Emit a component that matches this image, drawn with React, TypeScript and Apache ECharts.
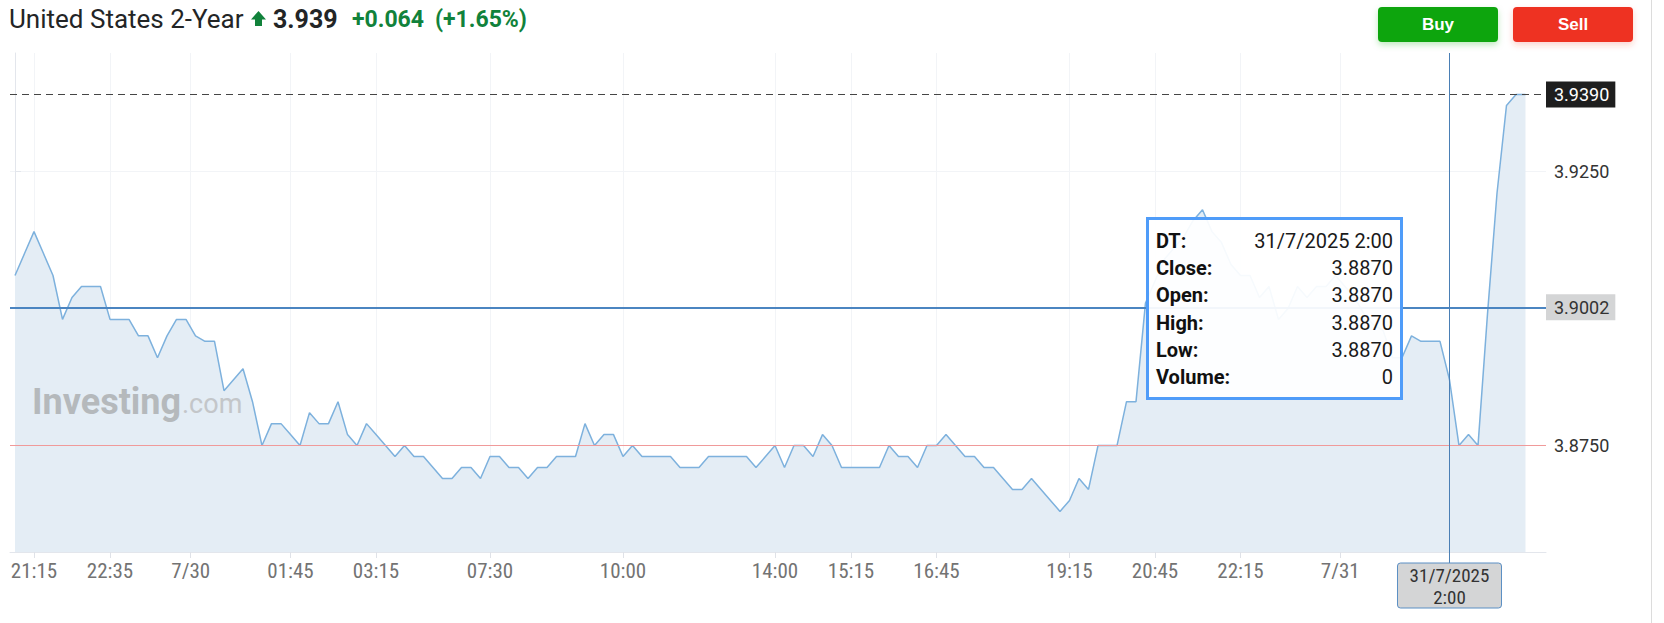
import React, { useEffect, useRef } from "react";
import * as echarts from "echarts";

// 10-minute closes, United States 2-Year yield
const closes: number[] = [
  3.906, 3.910, 3.914, 3.910, 3.906, 3.898, 3.902, 3.904, 3.904, 3.904,
  3.898, 3.898, 3.898, 3.895, 3.895, 3.891, 3.895, 3.898, 3.898, 3.895,
  3.894, 3.894, 3.885, 3.887, 3.889, 3.883, 3.875, 3.879, 3.879, 3.877,
  3.875, 3.881, 3.879, 3.879, 3.883, 3.877, 3.875, 3.879, 3.877, 3.875,
  3.873, 3.875, 3.873, 3.873, 3.871, 3.869, 3.869, 3.871, 3.871, 3.869,
  3.873, 3.873, 3.871, 3.871, 3.869, 3.871, 3.871, 3.873, 3.873, 3.873,
  3.879, 3.875, 3.877, 3.877, 3.873, 3.875, 3.873, 3.873, 3.873, 3.873,
  3.871, 3.871, 3.871, 3.873, 3.873, 3.873, 3.873, 3.873, 3.871, 3.873,
  3.875, 3.871, 3.875, 3.875, 3.873, 3.877, 3.875, 3.871, 3.871, 3.871,
  3.871, 3.871, 3.875, 3.873, 3.873, 3.871, 3.875, 3.875, 3.877, 3.875,
  3.873, 3.873, 3.871, 3.871, 3.869, 3.867, 3.867, 3.869, 3.867, 3.865,
  3.863, 3.865, 3.869, 3.867, 3.875, 3.875, 3.875, 3.883, 3.883, 3.901,
  3.905, 3.909, 3.911, 3.913, 3.916, 3.918, 3.914, 3.912, 3.908, 3.906,
  3.906, 3.902, 3.904, 3.898, 3.900, 3.904, 3.902, 3.904, 3.904, 3.906,
  3.904, 3.902, 3.899, 3.897, 3.896, 3.891, 3.891, 3.895, 3.894, 3.894,
  3.894, 3.887, 3.875, 3.877, 3.875, 3.899, 3.921, 3.937, 3.939, 3.939,
];

// x tick labels and the bar index they sit at
const xTickLabels = ["21:15", "22:35", "7/30", "01:45", "03:15", "07:30", "10:00", "14:00", "15:15", "16:45", "19:15", "20:45", "22:15", "7/31", "02:00"];
const xTickIndex = [2, 10, 18.5, 29, 38, 50, 64, 80, 88, 97, 111, 120, 129, 139.5, 151];

// y axis
const yTickValues = [3.875, 3.9, 3.925];
const yLabelValues = [3.875, 3.925];
const yMin = 3.8556;
const yMax = 3.94656;
const xMin = -0.5263;
const xMax = 161.158;

// reference levels
const prevClose = 3.875;
const avgLevel = 3.9002;

// hovered bar
const hoverIndex = 151;
const hoverDate = "31/7/2025";
const hoverTime = "2:00";
const hoverVolume = 0;

const title = "United States 2-Year";

const GREEN = "#11823b";
const AXIS_FONT = "'Liberation Sans Narrow', 'Arial Narrow', 'Roboto Condensed', 'DejaVu Sans Condensed', sans-serif";

export default function App() {
  const ref = useRef<HTMLDivElement>(null);

  useEffect(() => {
    const chart = echarts.init(ref.current!, null, { renderer: "svg" });
    const last = closes[closes.length - 1];
    const change = last - prevClose;
    const pct = (change / prevClose) * 100;
    const labelMap = new Map<number, string>();
    xTickIndex.forEach((v, i) => labelMap.set(v, xTickLabels[i]));

    const option: any = {
      animation: false,
      grid: { left: 10, right: 118, top: 53, bottom: 71, containLabel: false },
      xAxis: {
        type: "value",
        min: xMin,
        max: xMax,
        axisLine: { show: true, lineStyle: { color: "#e3e6ec", width: 1 } },
        axisTick: { show: true, customValues: xTickIndex, length: 6, lineStyle: { color: "#dfe2e8" } },
        axisLabel: {
          customValues: xTickIndex,
          formatter: (v: number) => labelMap.get(v) ?? "",
          color: "#737373",
          fontSize: 21,
          fontFamily: AXIS_FONT,
          margin: 8,
        },
        splitLine: { show: true, lineStyle: { color: "#f2f4f7", width: 1 } },
      },
      yAxis: {
        type: "value",
        position: "right",
        min: yMin,
        max: yMax,
        scale: true,
        axisLine: { show: true, lineStyle: { color: "#e3e6ec", width: 1 } },
        axisTick: { show: true, customValues: yTickValues, length: 6, lineStyle: { color: "#e3e6ec" } },
        axisLabel: {
          customValues: yLabelValues,
          formatter: (v: number) => v.toFixed(4),
          color: "#333333",
          fontSize: 18,
          fontFamily: "Roboto, sans-serif",
          margin: 8,
        },
        splitLine: { show: true, lineStyle: { color: "#f2f4f7", width: 1 } },
      },
      series: [
        {
          type: "line",
          data: closes.map((v, i) => [i, v]),
          showSymbol: false,
          symbol: "none",
          lineStyle: { color: "#7db1dd", width: 1.5 },
          areaStyle: { color: "#e4edf5", opacity: 1 },
          z: 2,
          markLine: {
            silent: true,
            symbol: "none",
            animation: false,
            precision: 4,
            data: [
              {
                yAxis: prevClose,
                lineStyle: { color: "#f09a9a", width: 1, type: "solid" },
                label: { show: false },
              },
              {
                yAxis: avgLevel,
                lineStyle: { color: "#4b85c1", width: 2, type: "solid" },
                label: {
                  show: true,
                  position: "end",
                  distance: 0,
                  formatter: (p: any) => Number(p.value).toFixed(4),
                  backgroundColor: "#d4d5d6",
                  color: "#333333",
                  fontSize: 18,
                  fontFamily: "Roboto, sans-serif",
                  lineHeight: 18,
                  padding: [4, 6, 4, 8],
                },
              },
              {
                yAxis: last,
                lineStyle: { color: "#454545", width: 1, type: [7, 5] },
                label: {
                  show: true,
                  position: "end",
                  distance: 0,
                  formatter: (p: any) => Number(p.value).toFixed(4),
                  backgroundColor: "#1e1e1e",
                  color: "#ffffff",
                  fontSize: 18,
                  fontFamily: "Roboto, sans-serif",
                  lineHeight: 18,
                  padding: [4, 6, 4, 8],
                },
              },
              {
                xAxis: hoverIndex,
                lineStyle: { color: "#4a7fb5", width: 1, type: "solid" },
                label: { show: false },
              },
            ],
          },
        },
      ],
    };
    chart.setOption(option);

    const cx = chart.convertToPixel({ xAxisIndex: 0 }, hoverIndex) as number;
    const gridBottom = chart.convertToPixel({ yAxisIndex: 0 }, yMin) as number;
    const hoverClose = closes[hoverIndex];

    const boxW = 104;
    const boxTop = gridBottom + 11;
    const boxH = 45;

    const ttX = 1146;
    const ttY = 217;
    const ttW = 257;
    const ttH = 183;
    const rowLabels = ["DT:", "Close:", "Open:", "High:", "Low:", "Volume:"];
    const rowValues = [
      `${hoverDate} ${hoverTime}`,
      hoverClose.toFixed(4),
      hoverClose.toFixed(4),
      hoverClose.toFixed(4),
      hoverClose.toFixed(4),
      String(hoverVolume),
    ];

    const elements: any[] = [
      // widget border
      { type: "line", shape: { x1: 1651.5, y1: 0, x2: 1651.5, y2: 623 }, style: { stroke: "#dcdcdc", lineWidth: 1 }, z: 1 },
      // header
      { type: "text", x: 9, y: 19, style: { text: title, fill: "#232526", fontSize: 26, fontFamily: "Roboto, sans-serif", align: "left", verticalAlign: "middle" } },
      {
        type: "polygon",
        shape: { points: [[258.5, 11], [266, 19.5], [262, 19.5], [262, 26], [255, 26], [255, 19.5], [251, 19.5]] },
        style: { fill: GREEN },
      },
      { type: "text", x: 273, y: 19, style: { text: last.toFixed(3), fill: "#232526", fontSize: 25, fontWeight: "bold", fontFamily: "Roboto, sans-serif", align: "left", verticalAlign: "middle" } },
      { type: "text", x: 352, y: 19, style: { text: (change >= 0 ? "+" : "") + change.toFixed(3), fill: GREEN, fontSize: 23, fontWeight: "bold", fontFamily: "Roboto, sans-serif", align: "left", verticalAlign: "middle" } },
      { type: "text", x: 435, y: 19, style: { text: `(${pct >= 0 ? "+" : ""}${pct.toFixed(2)}%)`, fill: GREEN, fontSize: 23, fontWeight: "bold", fontFamily: "Roboto, sans-serif", align: "left", verticalAlign: "middle" } },
      // buttons
      { type: "rect", shape: { x: 1378, y: 7, width: 120, height: 35, r: 4 }, style: { fill: "#0ea50b", shadowBlur: 6, shadowOffsetY: 3, shadowColor: "rgba(14,165,11,0.25)" } },
      { type: "text", x: 1438, y: 24.5, style: { text: "Buy", fill: "#ffffff", fontSize: 17, fontWeight: "bold", fontFamily: "'Liberation Sans', Arial, sans-serif", align: "center", verticalAlign: "middle" } },
      { type: "rect", shape: { x: 1513, y: 7, width: 120, height: 35, r: 4 }, style: { fill: "#ee3124", shadowBlur: 6, shadowOffsetY: 3, shadowColor: "rgba(238,49,36,0.22)" } },
      { type: "text", x: 1573, y: 24.5, style: { text: "Sell", fill: "#ffffff", fontSize: 17, fontWeight: "bold", fontFamily: "'Liberation Sans', Arial, sans-serif", align: "center", verticalAlign: "middle" } },
      // watermark
      { type: "text", x: 32, y: 402, z: 5, style: { text: "Investing", fill: "#b5b9bc", fontSize: 36, fontWeight: "bold", fontFamily: "Roboto, sans-serif", align: "left", verticalAlign: "middle" } },
      { type: "text", x: 182, y: 404, z: 5, style: { text: ".com", fill: "#c3c6c9", fontSize: 27, fontFamily: "Roboto, sans-serif", align: "left", verticalAlign: "middle" } },
      // crosshair below plot and its axis label
      { type: "line", z: 50, shape: { x1: cx, y1: gridBottom, x2: cx, y2: boxTop }, style: { stroke: "#4a7fb5", lineWidth: 1 } },
      { type: "rect", z: 50, shape: { x: cx - boxW / 2, y: boxTop, width: boxW, height: boxH, r: 3 }, style: { fill: "#d4d5d6", stroke: "#5b8fc4", lineWidth: 1 } },
      { type: "text", z: 51, x: cx, y: boxTop + 12, style: { text: hoverDate, fill: "#333333", fontSize: 19, fontFamily: AXIS_FONT, align: "center", verticalAlign: "middle" } },
      { type: "text", z: 51, x: cx, y: boxTop + 34, style: { text: hoverTime, fill: "#333333", fontSize: 19, fontFamily: AXIS_FONT, align: "center", verticalAlign: "middle" } },
      // tooltip
      { type: "rect", z: 100, shape: { x: ttX + 1.5, y: ttY + 1.5, width: ttW - 3, height: ttH - 3 }, style: { fill: "rgba(255,255,255,0.93)", stroke: "#4f9cf9", lineWidth: 3 } },
    ];
    rowLabels.forEach((lab, i) => {
      const y = ttY + 24 + i * 27.2;
      elements.push({ type: "text", z: 101, x: ttX + 10, y, style: { text: lab, fill: "#111111", fontSize: 20, fontWeight: "bold", fontFamily: "Roboto, sans-serif", align: "left", verticalAlign: "middle" } });
      elements.push({ type: "text", z: 101, x: ttX + ttW - 10, y, style: { text: rowValues[i], fill: "#1a1a1a", fontSize: 20, fontFamily: "Roboto, sans-serif", align: "right", verticalAlign: "middle" } });
    });

    chart.setOption({ graphic: { elements } });

    return () => chart.dispose();
  }, []);

  return <div ref={ref} style={{ position: "fixed", left: 0, top: 0, width: 1664, height: 623, background: "#ffffff" }} />;
}
